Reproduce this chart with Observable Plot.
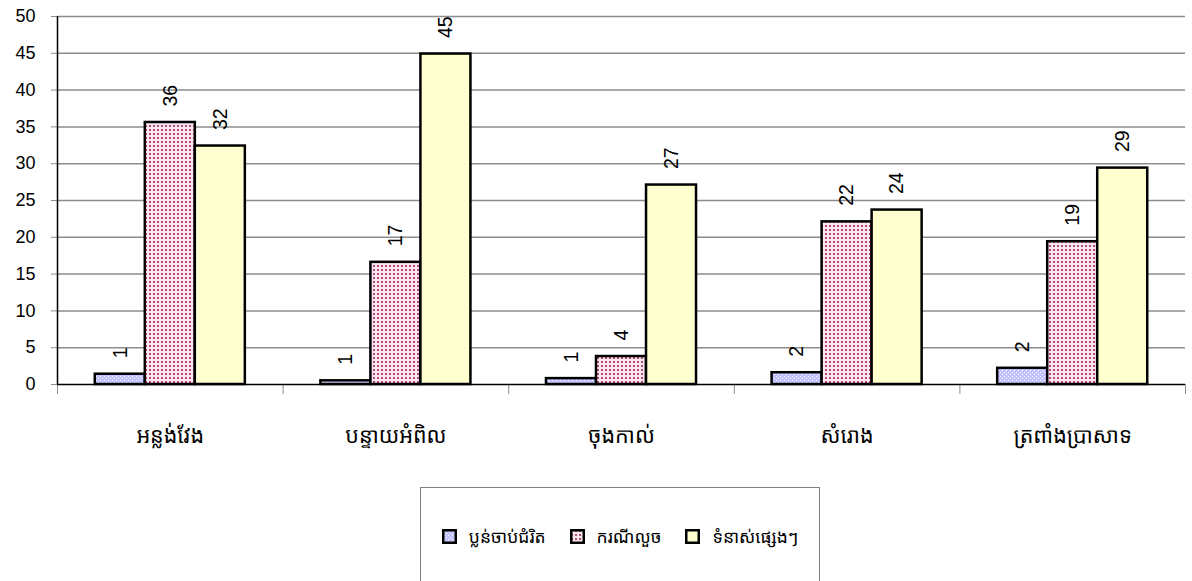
<!DOCTYPE html>
<html>
<head>
<meta charset="utf-8">
<script src="https://cdn.jsdelivr.net/npm/d3@7"></script>
<script src="https://cdn.jsdelivr.net/npm/@observablehq/plot@0.6"></script>
<style>
  body { margin: 0; background: #fff; font-family: Arial, "Liberation Sans", sans-serif; }
  #wrap { position: relative; width: 1192px; height: 581px; overflow: hidden; background: #fff; }
  #legend { position: absolute; left: 420px; top: 487px; width: 400px; height: 110px; border: 1px solid #808080; box-sizing: border-box; }
  #legend .items { position: absolute; top: 36px; left: 0; width: 100%; display: flex; justify-content: center; align-items: center; gap: 24px; font-family: "Khmer OS", "Noto Sans Khmer", "DejaVu Sans", sans-serif; font-size: 17.5px; color: #000; }
  #legend .item { display: flex; align-items: center; gap: 12px; }
  #legend svg { display: block; }
</style>
</head>
<body>
<svg width="0" height="0" style="position:absolute">
  <defs>
    <pattern id="patBlue" width="4" height="4" patternUnits="userSpaceOnUse">
      <rect width="4" height="4" fill="#c2c2ff"></rect>
      <rect x="0" y="0" width="1" height="1" fill="#ffffff"></rect>
      <rect x="2" y="2" width="1" height="1" fill="#ffffff"></rect>
    </pattern>
    <pattern id="patPink" width="4" height="4" patternUnits="userSpaceOnUse">
      <rect width="4" height="4" fill="#f9e6ee"></rect>
      <rect x="1" y="1" width="2" height="2" fill="#b54a78"></rect>
    </pattern>
    <pattern id="patYellow" width="4" height="4" patternUnits="userSpaceOnUse">
      <rect width="4" height="4" fill="#ffffc8"></rect>
      <rect x="1" y="1" width="2" height="2" fill="#ffffe6"></rect>
    </pattern>
  </defs>
</svg>
<div id="wrap">
  <div id="chart"></div>
  <div id="legend"><div class="items"></div></div>
</div>
<script>
// ---- data ----
const categories = ["អន្លង់វែង", "បន្ទាយអំពិល", "ចុងកាល់", "សំរោង", "ត្រពាំងប្រាសាទ"];
const seriesNames = ["ប្លន់ចាប់ជំរិត", "ករណីលួច", "ទំនាស់ផ្សេងៗ"];
const robbery  = [1.4, 0.5, 0.8, 1.6, 2.2];
const theft    = [35.6, 16.6, 3.8, 22.1, 19.4];
const disputes = [32.4, 44.9, 27.1, 23.7, 29.4];
const yTicks = [0, 5, 10, 15, 20, 25, 30, 35, 40, 45, 50];

// ---- build table ----
const seriesValues = [robbery, theft, disputes];
const fills = ["url(#patBlue)", "url(#patPink)", "url(#patYellow)"];
const rows = [];
categories.forEach((c, ci) => seriesValues.forEach((vals, si) => rows.push({ci, si, category: c, series: seriesNames[si], value: vals[ci]})));

const groupStart = 0.1675, barW = 0.2217;
const bx1 = d => d.ci + groupStart + d.si * barW;
const bx2 = d => bx1(d) + barW;
const bxc = d => bx1(d) + barW / 2;

const chart = Plot.plot({
  width: 1192,
  height: 481,
  marginLeft: 57,
  marginRight: 7,
  marginTop: 16,
  marginBottom: 97,
  style: {background: "#fff", fontFamily: "Arial, 'Liberation Sans', sans-serif"},
  x: {type: "linear", domain: [0, categories.length]},
  y: {domain: [0, 50]},
  marks: [
    Plot.ruleY(yTicks.filter(t => t > 0), {x1: 0, x2: categories.length, stroke: "#8c8c8c", strokeWidth: 1.5}),
    Plot.axisY({ticks: yTicks, tickSize: 6, tickPadding: 16, fontSize: 18, stroke: "#8c8c8c", color: "#000", label: null}),
    Plot.axisX({ticks: d3.range(categories.length + 1), tickSize: 10, tickFormat: () => "", stroke: "#8c8c8c", label: null}),
    Plot.axisX({ticks: categories.map((c, i) => i + 0.5), tickSize: 0, tickPadding: 43, tickFormat: d => categories[Math.floor(d)], fontSize: 21.5, fontFamily: "'Khmer OS', 'Noto Sans Khmer', 'DejaVu Sans', sans-serif", label: null}),
    ...seriesNames.map((s, si) => Plot.rectY(rows.filter(d => d.si === si), {x1: bx1, x2: bx2, y1: 0, y2: "value", fill: fills[si], stroke: "#000", strokeWidth: 2.5})),
    Plot.ruleX([0], {y1: 0, y2: 50, stroke: "#000", strokeWidth: 1.5}),
    Plot.ruleY([0], {x1: 0, x2: categories.length, stroke: "#000", strokeWidth: 1.5}),
    Plot.text(rows, {x: bxc, y: "value", text: d => String(Math.round(d.value)), rotate: -90, textAnchor: "start", lineAnchor: "middle", dy: -16, fontSize: 19.5, fill: "#000"})
  ]
});
document.getElementById("chart").appendChild(chart);

// ---- legend ----
const items = document.querySelector("#legend .items");
seriesNames.forEach((s, si) => {
  const it = document.createElement("div");
  it.className = "item";
  it.innerHTML = `<svg width="15" height="15"><rect x="1.25" y="1.25" width="12.5" height="12.5" fill="${fills[si]}" stroke="#000" stroke-width="2.5"></rect></svg><span>${s}</span>`;
  items.appendChild(it);
});
</script>
</body>
</html>
